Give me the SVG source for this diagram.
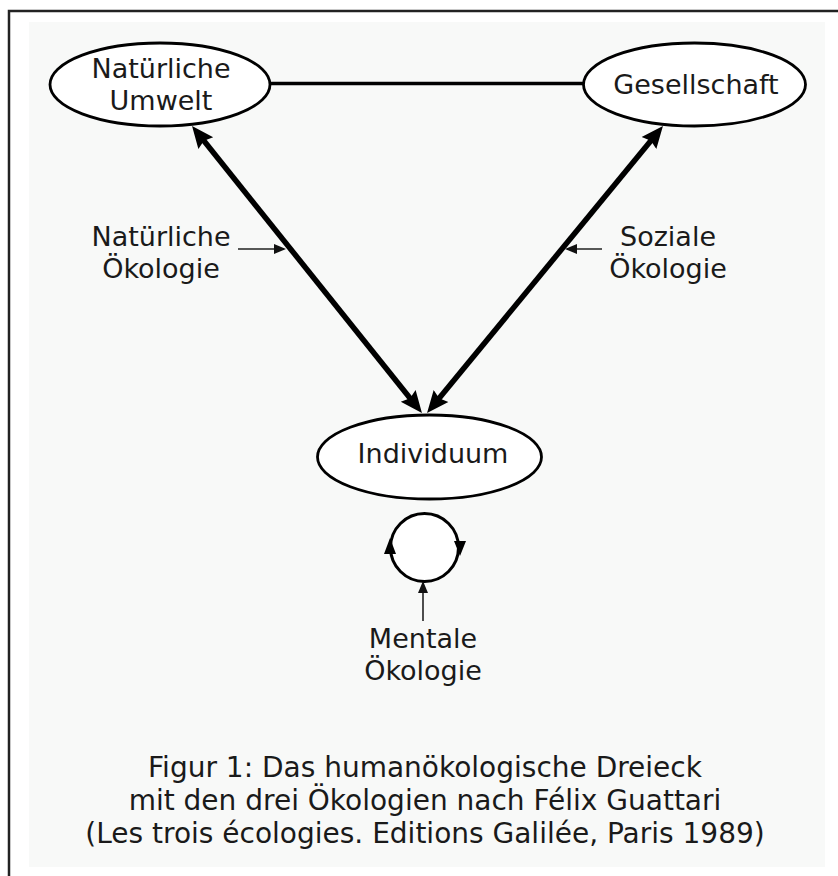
<svg xmlns="http://www.w3.org/2000/svg" width="838" height="876" viewBox="0 0 838 876">
<style>
text{font-family:"DejaVu Sans","Liberation Sans",sans-serif;font-size:27px;fill:#1a1a1a;text-anchor:middle}
.cap{font-size:28px}
.node{fill:#fff;stroke:#000;stroke-width:2.8}
.thick{stroke:#000;stroke-width:5.5;fill:none}
.thin{stroke:#222;stroke-width:1.6;fill:none}
.head{fill:#000}
</style>
<defs>
<marker id="big" markerUnits="userSpaceOnUse" markerWidth="26" markerHeight="22" viewBox="0 -11 26 22" refX="12" refY="0" orient="auto-start-reverse">
<path d="M0,-9.5 L22,0 L0,9.5 L3,0 Z" fill="#000"/>
</marker>
<marker id="small" markerUnits="userSpaceOnUse" markerWidth="14" markerHeight="12" viewBox="0 -6 14 12" refX="10" refY="0" orient="auto">
<path d="M0,-5 L12,0 L0,5 Z" fill="#111"/>
</marker>
</defs>
<rect width="838" height="876" fill="#fff"/>
<rect x="29" y="22" width="796" height="845" fill="#f8f9f8"/>
<path d="M9,876 V11 H838" fill="none" stroke="#222" stroke-width="2.5"/>
<g id="connectors">
<line x1="270" y1="83.5" x2="583" y2="83.5" stroke="#000" stroke-width="3.5"/>
<line class="thick" x1="198.3" y1="133.8" x2="415.7" y2="405.2" marker-start="url(#big)" marker-end="url(#big)"/>
<line class="thick" x1="656.6" y1="133.7" x2="433.4" y2="405.3" marker-start="url(#big)" marker-end="url(#big)"/>
<line class="thin" x1="238" y1="249" x2="284" y2="249" marker-end="url(#small)"/>
<line class="thin" x1="602" y1="249" x2="567" y2="249" marker-end="url(#small)"/>
<line class="thin" x1="423" y1="621" x2="423" y2="583" marker-end="url(#small)"/>
</g>
<g id="node-natuerliche-umwelt">
<ellipse class="node" cx="160" cy="84.5" rx="110" ry="41.5"/>
<text x="161" y="78">Natürliche</text>
<text x="161" y="110">Umwelt</text>
</g>
<g id="node-gesellschaft">
<ellipse class="node" cx="694.5" cy="84.5" rx="111" ry="41.5"/>
<text x="696" y="94">Gesellschaft</text>
</g>
<g id="node-individuum">
<ellipse class="node" cx="429.5" cy="457" rx="112" ry="42"/>
<text x="433" y="463">Individuum</text>
</g>
<g id="label-natuerliche-oekologie">
<text x="161" y="246">Natürliche</text>
<text x="161" y="278">Ökologie</text>
</g>
<g id="label-soziale-oekologie">
<text x="668" y="246">Soziale</text>
<text x="668" y="278">Ökologie</text>
</g>
<g id="mental-loop">
<circle cx="424.5" cy="547.5" r="34" fill="#fff" stroke="#000" stroke-width="3"/>
<polygon class="head" points="390,538 384,554 396,554"/>
<polygon class="head" points="460,556 454,541 466,541"/>
</g>
<g id="label-mentale-oekologie">
<text x="423" y="648">Mentale</text>
<text x="423" y="680">Ökologie</text>
</g>
<g id="caption">
<text class="cap" x="425" y="777">Figur 1: Das humanökologische Dreieck</text>
<text class="cap" x="425" y="810">mit den drei Ökologien nach Félix Guattari</text>
<text class="cap" x="425" y="843">(Les trois écologies. Editions Galilée, Paris 1989)</text>
</g>
</svg>
